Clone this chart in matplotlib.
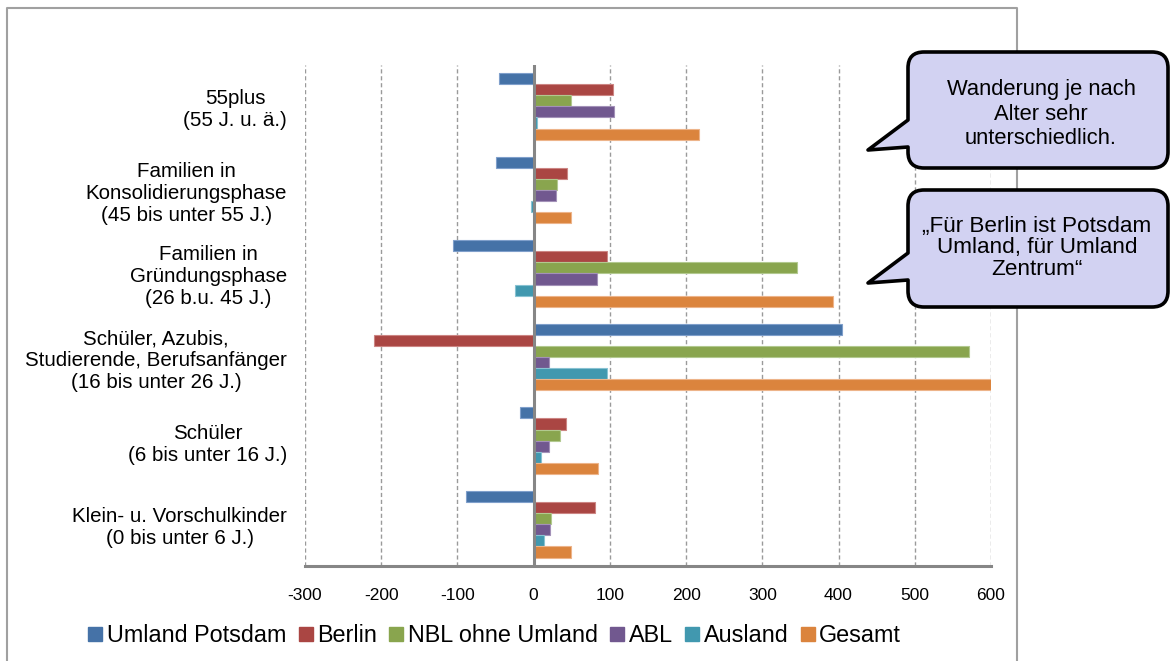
import matplotlib
matplotlib.use("Agg")
import matplotlib.pyplot as plt
import numpy as np
from matplotlib.path import Path
from matplotlib.patches import PathPatch
from matplotlib.lines import Line2D

plt.rcParams['font.family'] = ['Liberation Sans', 'DejaVu Sans']

# ---- data (bottom-to-top category order, as in the source chart) ----
categories = [
    "Klein- u. Vorschulkinder\n(0 bis unter 6 J.)",
    "Schüler\n(6 bis unter 16 J.)",
    "Schüler, Azubis,\nStudierende, Berufsanfänger\n(16 bis unter 26 J.)",
    "Familien in\nGründungsphase\n(26 b.u. 45 J.)",
    "Familien in\nKonsolidierungsphase\n(45 bis unter 55 J.)",
    "55plus\n(55 J. u. ä.)",
]
series_names = ["Umland Potsdam", "Berlin", "NBL ohne Umland", "ABL", "Ausland", "Gesamt"]
umland_potsdam = [-89, -18, 404, -106, -49, -45]
berlin = [80, 42, -209, 96, 44, 104]
nbl_ohne_umland = [23, 34, 571, 345, 30, 49]
abl = [21, 20, 20, 83, 29, 106]
ausland = [14, 10, 96, -25, -3, 4]
gesamt = [49, 85, 603, 393, 49, 217]
x_ticks = [-300, -200, -100, 0, 100, 200, 300, 400, 500, 600]
callout_texts = ["Wanderung je nach\nAlter sehr\nunterschiedlich.",
                 "\u201eFür Berlin ist Potsdam\nUmland, für Umland\nZentrum\u201c"]

series_values = [umland_potsdam, berlin, nbl_ohne_umland, abl, ausland, gesamt]
colors = ["#4572A7", "#AA4643", "#89A54E", "#71588F", "#4198AF", "#DB843D"]
edge_colors = ["#7F9FCB", "#CC8583", "#B2C98F", "#A391B8", "#88C2D2", "#EDB48A"]

W, H = 1171, 661
fig = plt.figure(figsize=(W / 100, H / 100), dpi=100)

def fx(px):
    return px / W

def fy(py):
    return 1 - py / H

ax = fig.add_axes([fx(305), fy(566), fx(991) - fx(305), fy(64.5) - fy(566)])

h = 0.133
ypos = np.arange(len(categories))
for i, (vals, c, ec) in enumerate(zip(series_values, colors, edge_colors)):
    ax.barh(ypos + (2.5 - i) * h, vals, height=h, color=c, edgecolor=ec,
            linewidth=0.8, label=series_names[i], zorder=3)

ax.set_xlim(-300, 600)
ax.set_ylim(-0.5, len(categories) - 0.5)
ax.set_xticks(x_ticks)
ax.set_xticklabels([str(t) for t in x_ticks], fontsize=12.5)
ax.set_yticks(ypos)
ax.set_yticklabels(categories, fontsize=14.8, multialignment='center')
ax.tick_params(axis='x', length=0, pad=16)
ax.tick_params(axis='y', length=0, pad=13)

for t in x_ticks:
    if t != 0:
        ax.axvline(t, color="#9A9A9A", linestyle=(0, (3, 2)), linewidth=1.0, zorder=1)
ax.axvline(0, color="#868686", linewidth=2.2, zorder=4)

for s in ["left", "right", "top"]:
    ax.spines[s].set_visible(False)
ax.spines["bottom"].set_color("#868686")
ax.spines["bottom"].set_linewidth(2.2)

# legend
handles = [Line2D([0], [0], marker='s', linestyle='none', markersize=10.5,
                  markerfacecolor=c, markeredgecolor=c) for c in colors]
fig.legend(handles, series_names, loc='center left', bbox_to_anchor=(fx(89), fy(636)),
           ncol=6, frameon=False, fontsize=16.8, handlelength=0.55, handletextpad=0.22,
           columnspacing=0.55, borderaxespad=0, borderpad=0)

# outer chart frame (left, top, right)
frame_col = "#A0A0A0"
fig.add_artist(Line2D([fx(7), fx(7), fx(1017), fx(1017)], [fy(661), fy(8), fy(8), fy(661)],
                      color=frame_col, linewidth=1.5, transform=fig.transFigure, zorder=2))

# speech-bubble callouts
def bubble(x0, y0, x1, y1, r, tail_up, tail_low, apex):
    pts = []
    codes = []
    def mv(x, y):
        pts.append((fx(x), fy(y))); codes.append(Path.MOVETO)
    def ln(x, y):
        pts.append((fx(x), fy(y))); codes.append(Path.LINETO)
    def cv(cx, cy, x, y):
        pts.append((fx(cx), fy(cy))); codes.append(Path.CURVE3)
        pts.append((fx(x), fy(y))); codes.append(Path.CURVE3)
    mv(x0 + r, y0)
    ln(x1 - r, y0)
    cv(x1, y0, x1, y0 + r)
    ln(x1, y1 - r)
    cv(x1, y1, x1 - r, y1)
    ln(x0 + r, y1)
    cv(x0, y1, x0, y1 - r)
    ln(x0, tail_low)
    ln(apex[0], apex[1])
    ln(x0, tail_up)
    ln(x0, y0 + r)
    cv(x0, y0, x0 + r, y0)
    pts.append((fx(x0 + r), fy(y0))); codes.append(Path.CLOSEPOLY)
    p = PathPatch(Path(pts, codes), facecolor="#D2D2F2", edgecolor="black",
                  linewidth=2.6, transform=fig.transFigure, zorder=6, joinstyle='round')
    fig.add_artist(p)

bubble(908, 52, 1168, 168, 16, 120, 147, (868, 150))
bubble(908, 190, 1168, 307, 16, 253, 280, (868, 283))
fig.text(fx(1041), fy(114), callout_texts[0], ha='center', va='center', fontsize=15.8,
         linespacing=1.2, zorder=7)
fig.text(fx(1037), fy(248), callout_texts[1], ha='center', va='center', fontsize=16.2,
         linespacing=1.05, zorder=7)

fig.savefig("out.png", dpi=100)
